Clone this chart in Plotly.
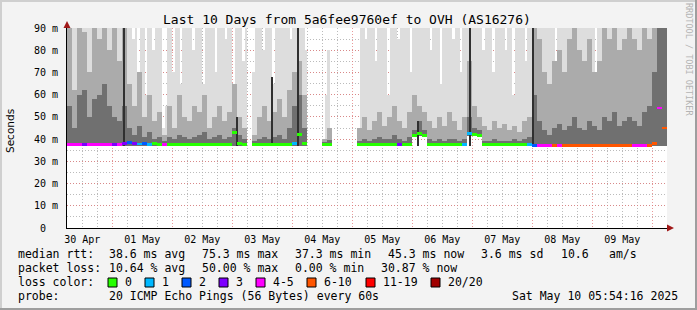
import plotly.graph_objects as go

# ---------------- data ----------------
# light smoke top (ms), 1-hour bins (240 values)
SMOKE_LIGHT = [
    90, 90, 90, 90, 90, 70, 90, 90, 90, 90, 90, 90, 90, 90, 90, 90, 90, 90, 90, 90, 90, 90, 90, 90,
    90, 90, 85, 90, 70, 90, 90, 60, 90, 90, 80, 90, 90, 90, 45, 55, 90, 90, 70, 90, 90, 65, 90, 90,
    90, 90, 80, 90, 90, 90, 65, 90, 90, 90, 90, 70, 90, 90, 90, 85, 90, 90, 60, 90, 90, 90, 75, 90,
    None, None, 70, 90, 90, 90, 80, 90, 90, 90, 65, 90, 90, 90, 90, 90, 90, 85, 90, 90, 90, 90, 90, 80,
    None, None, None, None, None, None, None, 60, 80, None, None, None, None, None, None, None, None, None, None, None, None, 90, 90, 85,
    90, 90, 90, 75, 90, 90, 90, 90, 60, 90, 90, 90, 85, 90, 90, 90, 90, 70, 90, 90, 90, 90, 90, 90,
    90, 80, 90, 90, 90, 65, 90, 90, 90, 90, 85, 90, 90, 70, 90, 90, 90, 90, 90, 90, 90, 90, 80, 90,
    90, 90, 70, 90, 90, 90, 90, 80, 90, 90, 60, 90, 90, 90, 90, 75, 90, 90, 90, 90, 90, 90, 90, 90,
    90, 90, 90, 70, 90, 90, 90, 90, 90, 90, 90, 75, 90, 90, 90, 90, 90, 90, 90, 65, 90, 90, 90, 90,
    90, 90, 90, 90, 90, 90, 90, 90, 90, 90, 90, 90, 90, 90, 90, 90, 90, 90, 90, 90, 90, 90, 90, 90,
]
# the following series use 2-hour bins (120 values)
# medium smoke top (ms)
SMOKE_MID = [
    90, 62, 90, 88, 70, 90, 85, 90, 80, 90,
    75, 90, 65, 55, 70, 50, 60, 48, 52, 42,
    55, 45, 60, 50, 48, 55, 52, 60, 45, 50,
    55, 48, 52, 65, 50, 45, None, 42, 50, 55,
    48, 52, 58, 50, 62, 70, 75, 60, None, None,
    None, 40, 45, None, None, None, None, None, 45, 50,
    44, 48, 52, 46, 50, 55, 48, 45, 52, 60,
    55, 52, 48, 45, 50, 46, 52, 48, 44, 50,
    75, 55, 50, 46, 44, 48, 45, 47, 44, 46,
    43, 48, 50, 90, 85, 70, 65, 75, 80, 70,
    85, 90, 80, 75, 85, 70, 75, 90, 85, 90,
    80, 85, 90, 85, 80, 90, 85, 90, 90, 90,
]
# dark smoke top (ms)
SMOKE_DARK = [
    55, 45, 60, 62, 50, 58, 60, 65, 55, 50,
    48, 55, 45, 42, 46, 41, 43, 40, 41, 39,
    41, 40, 42, 41, 40, 41, 42, 43, 40, 41,
    42, 40, 41, 45, 42, 40, None, 39, 40, 41,
    40, 41, 42, 40, 45, 55, 60, 45, None, None,
    None, 38.5, 39.5, None, None, None, None, None, 39, 40,
    39, 40, 41, 40, 40, 42, 40, 39, 41, 44,
    48, 44, 40, 39, 40, 39, 40, 40, 39, 40,
    50, 45, 44, 39, 39, 40, 39, 39, 39, 40,
    39, 40, 41, 60, 48, 44, 42, 45, 47, 44,
    46, 50, 45, 44, 48, 46, 44, 50, 48, 52,
    46, 48, 50, 48, 46, 52, 55, 70, 90, 90,
]
# lowest ping (smoke bottom, ms)
SMOKE_BASE = [
    36.8, 36.8, 36.8, 36.8, 36.8, 36.8, 36.8, 36.8, 36.8, 36.8,
    36.8, 36.8, 36.8, 36.8, 36.8, 36.8, 36.8, 36.8, 36.8, 36.8,
    36.8, 36.8, 36.8, 36.8, 36.8, 36.8, 36.8, 36.8, 36.8, 36.8,
    36.8, 36.8, 36.8, 36.8, 36.8, 36.8, None, 36.8, 36.8, 36.8,
    36.8, 36.8, 36.8, 36.8, 36.8, 36.8, 36.8, 36.8, None, None,
    None, 36.8, 36.8, None, None, None, None, None, 36.8, 36.8,
    36.8, 36.8, 36.8, 36.8, 36.8, 36.8, 36.8, 36.8, 36.8, 41.2,
    41.2, 41.2, 36.8, 36.8, 36.8, 36.8, 36.8, 36.8, 36.8, 36.8,
    41.2, 41.2, 41.2, 36.8, 36.8, 36.8, 36.8, 36.8, 36.8, 36.8,
    36.8, 36.8, 36.8, 36.8, 36.8, 36.8, 36.8, 36.8, 36.8, 36.8,
    36.8, 36.8, 36.8, 36.8, 36.8, 36.8, 36.8, 36.8, 36.8, 36.8,
    36.8, 36.8, 36.8, 36.8, 36.8, 36.8, 36.8, 36.8, 36.8, 36.8,
]
# median rtt (ms)
MEDIAN = [
    37.5, 37.5, 37.5, 37.5, 37.5, 37.5, 37.5, 37.5, 37.5, 37.5,
    37.5, 38, 38.5, 38, 37.8, 38, 37.6, 38, 37.5, 37.6,
    37.5, 37.5, 37.6, 37.5, 37.5, 37.5, 37.6, 37.5, 37.5, 37.5,
    37.6, 37.5, 37.5, 43, 38, 37.5, None, 37.5, 37.5, 37.5,
    37.6, 37.5, 37.5, 37.5, 37.6, 38, 42, 38, None, None,
    None, 37.5, 37.5, None, None, None, None, None, 37.5, 37.5,
    37.5, 37.5, 37.5, 37.5, 37.5, 37.5, 37.6, 37.5, 37.5, 41.8,
    42.5, 41.8, 37.5, 37.5, 37.5, 37.5, 37.5, 37.5, 37.5, 37.5,
    42.5, 42, 41.8, 37.5, 37.5, 37.5, 37.5, 37.5, 37.5, 37.5,
    37.5, 37.5, 37.5, 37.3, 37.3, 37.3, 37.3, 37.3, 37.3, 37.3,
    37.3, 37.3, 37.3, 37.3, 37.3, 37.3, 37.3, 37.3, 37.3, 37.3,
    37.3, 37.3, 37.3, 37.3, 37.3, 37.3, 37.3, 38, 54, 45,
]
# loss class index per bin (0:"0", 1:"1", 2:"2", 3:"3", 4:"4-5", 5:"6-10", 6:"11-19", 7:"20/20")
LOSS = [
    4, 4, 4, 3, 4, 4, 4, 4, 4, 3,
    4, 3, 2, 3, 1, 2, 1, 0, 0, 4,
    0, 0, 0, 0, 0, 0, 0, 0, 0, 0,
    0, 0, 0, 0, 0, 0, 0, 0, 0, 0,
    0, 0, 0, 0, 0, 1, 0, 0, 0, 0,
    0, 0, 0, 0, 0, 0, 0, 0, 0, 0,
    0, 0, 0, 0, 0, 0, 3, 0, 0, 0,
    0, 0, 0, 0, 0, 0, 0, 0, 0, 1,
    1, 0, 0, 0, 0, 0, 0, 0, 0, 0,
    0, 0, 1, 2, 4, 4, 4, 5, 4, 5,
    5, 5, 5, 5, 5, 5, 5, 5, 5, 5,
    5, 5, 5, 4, 4, 4, 5, 5, 4, 5,
]
# single dark outlier spikes (hour since start, top ms)
SPIKE_HOURS = [22.8, 68.0, 82.0, 92.4, 140.4, 161.2, 186.4]
SPIKE_TOP = [90, 50, 68, 90, 48, 90, 90]

LOSS_LABELS = ["0", "1", "2", "3", "4-5", "6-10", "11-19", "20/20"]
LOSS_COLORS = ["#26ff00", "#00b8ff", "#0059ff", "#7e00ff", "#ff00ff", "#ff5500", "#ff0000", "#a00000"]

DAY_LABELS = ["30 Apr", "01 May", "02 May", "03 May", "04 May",
              "05 May", "06 May", "07 May", "08 May", "09 May"]
Y_TICKS = [0, 10, 20, 30, 40, 50, 60, 70, 80, 90]
Y_TICK_TEXT = ["0\u00a0\u00a0", "10 m", "20 m", "30 m", "40 m", "50 m", "60 m", "70 m", "80 m", "90 m"]

TITLE = "Last 10 Days from 5a6fee9760ef to OVH (AS16276)"
SPAN_HOURS = 240
FIRST_MIDNIGHT = 18 + 5 / 60 + 44 / 3600   # start is Apr 30 05:54:16

# ---------------- geometry ----------------
W, H = 697, 310
LM, RM, TM, BM = 67, 30, 28, 82
PW, PH = W - LM - RM, H - TM - BM


def px(x):
    return (x - LM) / PW


def py(y):
    return (TM + PH - y) / PH


n2 = len(MEDIAN)
B2 = SPAN_HOURS / n2
X2 = [B2 * i + B2 / 2 for i in range(n2)]
n1 = len(SMOKE_LIGHT)
B1 = SPAN_HOURS / n1
X1 = [B1 * i + B1 / 2 for i in range(n1)]
BASE1 = [SMOKE_BASE[int(i * B1 // B2)] for i in range(n1)]


def span(tops, bases):
    return [None if (t is None or b is None) else t - b for t, b in zip(tops, bases)]


fig = go.Figure()
fig.add_trace(go.Bar(x=X1, y=span(SMOKE_LIGHT, BASE1), base=BASE1, width=B1,
                     marker=dict(color="#dddddd", line=dict(width=0)), showlegend=False,
                     hoverinfo="skip"))
for tops, col in [(SMOKE_MID, "#ababab"), (SMOKE_DARK, "#707070")]:
    fig.add_trace(go.Bar(x=X2, y=span(tops, SMOKE_BASE), base=SMOKE_BASE, width=B2,
                         marker=dict(color=col, line=dict(width=0)), showlegend=False,
                         hoverinfo="skip"))
fig.add_trace(go.Bar(x=SPIKE_HOURS, y=[t - 37 for t in SPIKE_TOP], base=37, width=0.6,
                     marker=dict(color="#303030", line=dict(width=0)), showlegend=False,
                     hoverinfo="skip"))
med_base = [None if m is None else m - 0.65 for m in MEDIAN]
med_h = [None if m is None else 1.3 for m in MEDIAN]
fig.add_trace(go.Bar(x=X2, y=med_h, base=med_base, width=B2,
                     marker=dict(color=[LOSS_COLORS[k] for k in LOSS], line=dict(width=0)),
                     showlegend=False, hoverinfo="skip"))
# invisible trace on the label axis
fig.add_trace(go.Scatter(x=[0, SPAN_HOURS], y=[None, None], xaxis="x2", yaxis="y",
                         showlegend=False, hoverinfo="skip"))

MONO = "DejaVu Sans Mono"
PINK = "rgba(225,120,120,0.75)"
GRAY = "rgba(170,170,170,0.8)"

fig.update_layout(
    width=W, height=H, margin=dict(l=LM, r=RM, t=TM, b=BM, pad=0),
    paper_bgcolor="#f3f3f3", plot_bgcolor="#ffffff",
    barmode="overlay", bargap=0, showlegend=False,
    font=dict(family=MONO, size=10, color="#000000"),
    xaxis=dict(range=[0, SPAN_HOURS], tickmode="linear", tick0=FIRST_MIDNIGHT, dtick=24,
               showgrid=True, gridcolor=PINK, griddash="1px,2px", gridwidth=1,
               showticklabels=False, ticks="", zeroline=False,
               showline=True, linecolor="#000000", linewidth=1, layer="above traces",
               minor=dict(tickmode="linear", tick0=FIRST_MIDNIGHT, dtick=6, showgrid=True,
                          gridcolor=GRAY, griddash="1px,2px", gridwidth=1, ticks="")),
    xaxis2=dict(overlaying="x", anchor="y", side="bottom", range=[0, SPAN_HOURS],
                tickmode="array", tickvals=[FIRST_MIDNIGHT - 12 + 24 * k for k in range(len(DAY_LABELS))],
                ticktext=DAY_LABELS, showgrid=False, zeroline=False, ticks="",
                ticklabelstandoff=4, tickfont=dict(family=MONO, size=10, color="#000000"),
                showline=False),
    yaxis=dict(range=[0, 90], tickmode="array", tickvals=Y_TICKS, ticktext=Y_TICK_TEXT,
               showgrid=True, gridcolor=PINK, griddash="1px,2px", gridwidth=1,
               ticks="", zeroline=False, showline=True, linecolor="#000000", linewidth=1,
               layer="above traces", ticklabelstandoff=6,
               tickfont=dict(family=MONO, size=10, color="#000000"),
               minor=dict(tickmode="linear", tick0=0, dtick=5, showgrid=True,
                          gridcolor=GRAY, griddash="1px,2px", gridwidth=1, ticks="")),
)

ann = []


def text(x, y, s, size=11.5, anchor="left", color="#000000", family=MONO, angle=0):
    ann.append(dict(x=px(x), y=py(y), xref="paper", yref="paper", text=s, showarrow=False,
                    xanchor=anchor, yanchor="middle", textangle=angle,
                    font=dict(family=family, size=size, color=color)))


text(347, 19, TITLE, size=13, anchor="center")
text(10, 131, "Seconds", size=10.5, anchor="center", family="DejaVu Sans", angle=-90)
text(689, 59, "RRDTOOL / TOBI OETIKER", size=8.5, anchor="center", color="#b4b4b4", angle=90)

rows = [
    (254, [(16, "median rtt:"), (107, "38.6 ms avg"), (200, "75.3 ms max"), (293, "37.3 ms min"),
           (386, "45.3 ms now"), (479, "3.6 ms sd"), (559, "10.6"), (607, "am/s")]),
    (268, [(16, "packet loss:"), (107, "10.64 % avg"), (200, "50.00 % max"), (293, "0.00 % min"),
           (379, "30.87 % now")]),
    (282, [(16, "loss color:")]),
    (296, [(16, "probe:"), (107, "20 ICMP Echo Pings (56 Bytes) every 60s")]),
]
for yy, items in rows:
    for xx, s in items:
        text(xx, yy, s)
text(680, 296, "Sat May 10 05:54:16 2025", anchor="right")

shapes = []
BOX_X = [108, 145, 182, 219, 256, 307, 366, 431]
for bx, lab, col in zip(BOX_X, LOSS_LABELS, LOSS_COLORS):
    shapes.append(dict(type="rect", xref="paper", yref="paper", x0=px(bx), x1=px(bx + 9),
                       y0=py(287), y1=py(278), fillcolor=col, line=dict(color="#000000", width=1)))
    text(bx + 15, 282, lab)

# axis arrows
AR = "#a01818"
shapes.append(dict(type="path", xref="paper", yref="paper",
                   path=f"M {px(63.5)} {py(28)} L {px(70.5)} {py(28)} L {px(67)} {py(21)} Z",
                   fillcolor=AR, line=dict(color=AR, width=0)))
shapes.append(dict(type="line", xref="paper", yref="paper", x0=1, x1=px(668), y0=0, y1=0,
                   line=dict(color="#000000", width=1)))
shapes.append(dict(type="path", xref="paper", yref="paper",
                   path=f"M {px(667)} {py(224.5)} L {px(667)} {py(231.5)} L {px(674)} {py(228)} Z",
                   fillcolor=AR, line=dict(color=AR, width=0)))
# 3D frame
for x0, x1, y0, y1, c in [(0, 697, 0, 2, "#cfcfcf"), (0, 2, 0, 310, "#cfcfcf"),
                          (0, 697, 308, 310, "#9e9e9e"), (695, 697, 0, 310, "#9e9e9e")]:
    shapes.append(dict(type="rect", xref="paper", yref="paper", x0=px(x0), x1=px(x1),
                       y0=py(y1), y1=py(y0), fillcolor=c, line=dict(width=0)))

fig.update_layout(annotations=ann, shapes=shapes)
fig.write_html("out.html")
